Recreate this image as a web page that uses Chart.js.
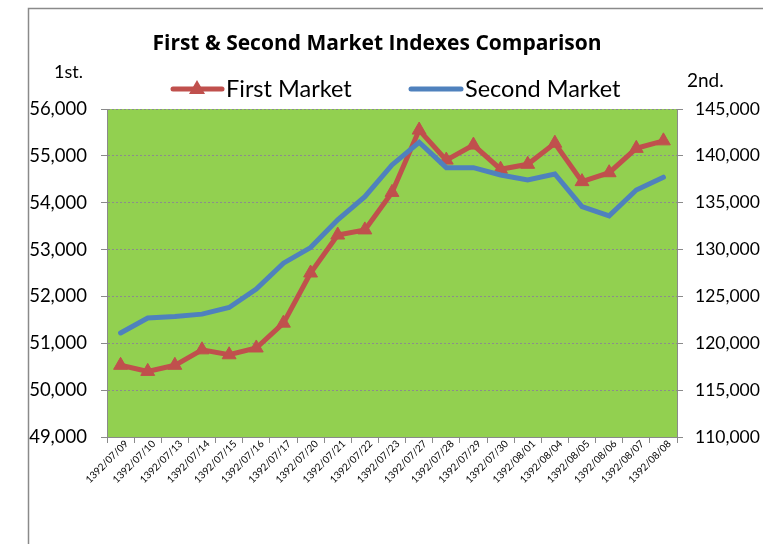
<!DOCTYPE html>
<html>
<head>
<meta charset="utf-8">
<script src="https://cdn.jsdelivr.net/npm/chart.js@4"></script>
<style>
  body { margin: 0; background: #fff; }
  #wrap { width: 763px; height: 544px; }
</style>
</head>
<body>
<div id="wrap"><canvas id="chart" width="763" height="544"></canvas></div>
<script>
// dates (Persian calendar)
const dates = ['1392/07/09', '1392/07/10', '1392/07/13', '1392/07/14', '1392/07/15', '1392/07/16',
  '1392/07/17', '1392/07/20', '1392/07/21', '1392/07/22', '1392/07/23', '1392/07/27', '1392/07/28',
  '1392/07/29', '1392/07/30', '1392/08/01', '1392/08/04', '1392/08/05', '1392/08/06', '1392/08/07',
  '1392/08/08'];

// first market index (left axis)
const firstMarket = [50530, 50400, 50530, 50860, 50755, 50900, 51430, 52500, 53310, 53420, 54220,
  55550, 54910, 55230, 54715, 54820, 55270, 54450, 54640, 55160, 55320];

// second market index (right axis)
const secondMarket = [121100, 122700, 122860, 123110, 123820, 125780, 128550, 130210, 133170, 135650,
  139030, 141450, 138740, 138740, 137960, 137430, 138070, 134580, 133590, 136360, 137720];

const leftTicks = { min: 49000, max: 56000, step: 1000 };
const rightTicks = { min: 110000, max: 145000, step: 5000 };

const RED = '#C0504D';
const BLUE = '#4F81BD';
const FONT = 'Lato';

function fmt(v) {
  return v.toLocaleString('en-US');
}

// 背景、外框、標題和圖例
const decorPlugin = {
  id: 'decor',
  beforeDraw(chart) {
    const ctx = chart.ctx;
    const a = chart.chartArea;
    ctx.save();
    ctx.fillStyle = '#fff';
    ctx.fillRect(0, 0, chart.width, chart.height);
    ctx.strokeStyle = '#8a8a8a';
    ctx.lineWidth = 1.5;
    ctx.strokeRect(28.5, 8.5, 900, 700);
    ctx.fillStyle = '#92D050';
    ctx.fillRect(a.left, a.top, a.right - a.left, a.bottom - a.top);
    ctx.restore();
  },
  afterDraw(chart) {
    const ctx = chart.ctx;
    ctx.save();
    ctx.fillStyle = '#000';
    ctx.textBaseline = 'middle';
    ctx.textAlign = 'center';
    ctx.font = 'bold 21px "Open Sans"';
    ctx.fillText('First & Second Market Indexes Comparison', 377, 44);

    ctx.textAlign = 'left';
    ctx.font = '18px ' + FONT;
    ctx.fillText('1st.', 54, 72);
    ctx.font = '19px ' + FONT;
    ctx.fillText('2nd.', 687, 81);

    // legend
    ctx.lineCap = 'round';
    ctx.lineWidth = 5;
    ctx.strokeStyle = RED;
    ctx.beginPath();
    ctx.moveTo(173, 89);
    ctx.lineTo(222, 89);
    ctx.stroke();
    ctx.fillStyle = RED;
    ctx.beginPath();
    ctx.moveTo(197, 80);
    ctx.lineTo(205, 94);
    ctx.lineTo(189, 94);
    ctx.closePath();
    ctx.fill();
    ctx.strokeStyle = BLUE;
    ctx.beginPath();
    ctx.moveTo(411, 89);
    ctx.lineTo(461, 89);
    ctx.stroke();

    ctx.fillStyle = '#000';
    ctx.font = '23.5px ' + FONT;
    ctx.fillText('First Market', 226, 89);
    ctx.fillText('Second Market', 465, 89);
    ctx.restore();
  }
};

const ctx = document.getElementById('chart').getContext('2d');
const chart = new Chart(ctx, {
  type: 'line',
  data: {
    labels: dates,
    datasets: [
      {
        label: 'First Market',
        data: firstMarket,
        yAxisID: 'y',
        borderColor: RED,
        backgroundColor: RED,
        borderWidth: 5,
        pointStyle: 'triangle',
        pointRadius: 8,
        pointBorderWidth: 1,
        pointBackgroundColor: RED,
        pointBorderColor: RED,
        tension: 0,
        order: 1
      },
      {
        label: 'Second Market',
        data: secondMarket,
        yAxisID: 'y2',
        borderColor: BLUE,
        borderWidth: 5,
        pointRadius: 0,
        tension: 0,
        borderCapStyle: 'round',
        order: 0
      }
    ]
  },
  options: {
    responsive: false,
    animation: false,
    layout: { padding: { top: 109, left: 0, right: 0, bottom: 0 } },
    plugins: {
      legend: { display: false },
      title: { display: false },
      tooltip: { enabled: false }
    },
    scales: {
      x: {
        offset: true,
        afterFit(s) { s.height = 107; },
        grid: {
          offset: true,
          drawOnChartArea: false,
          drawTicks: true,
          tickLength: 6,
          color: '#8a8a8a'
        },
        border: { color: '#8a8a8a', width: 1 },
        ticks: {
          autoSkip: false,
          minRotation: 45,
          maxRotation: 45,
          color: '#000',
          font: { family: FONT, size: 10 },
          padding: -5,
          labelOffset: 6
        }
      },
      y: {
        position: 'left',
        min: leftTicks.min,
        max: leftTicks.max,
        afterFit(s) { s.width = 107; },
        grid: {
          color: '#8c8c8c',
          lineWidth: 1,
          tickLength: 6,
          tickColor: '#8a8a8a',
          tickBorderDash: []
        },
        border: { color: '#8a8a8a', width: 1, dash: [2, 2] },
        ticks: {
          stepSize: leftTicks.step,
          color: '#000',
          font: { family: FONT, size: 18.5 },
          padding: 14,
          callback: v => fmt(v)
        }
      },
      y2: {
        position: 'right',
        min: rightTicks.min,
        max: rightTicks.max,
        afterFit(s) { s.width = 86; },
        grid: {
          drawOnChartArea: false,
          tickLength: 6,
          color: '#8a8a8a'
        },
        border: { color: '#8a8a8a', width: 1 },
        ticks: {
          stepSize: rightTicks.step,
          color: '#000',
          font: { family: FONT, size: 17.5 },
          padding: 12,
          callback: v => fmt(v)
        }
      }
    }
  },
  plugins: [decorPlugin]
});
</script>
</body>
</html>
